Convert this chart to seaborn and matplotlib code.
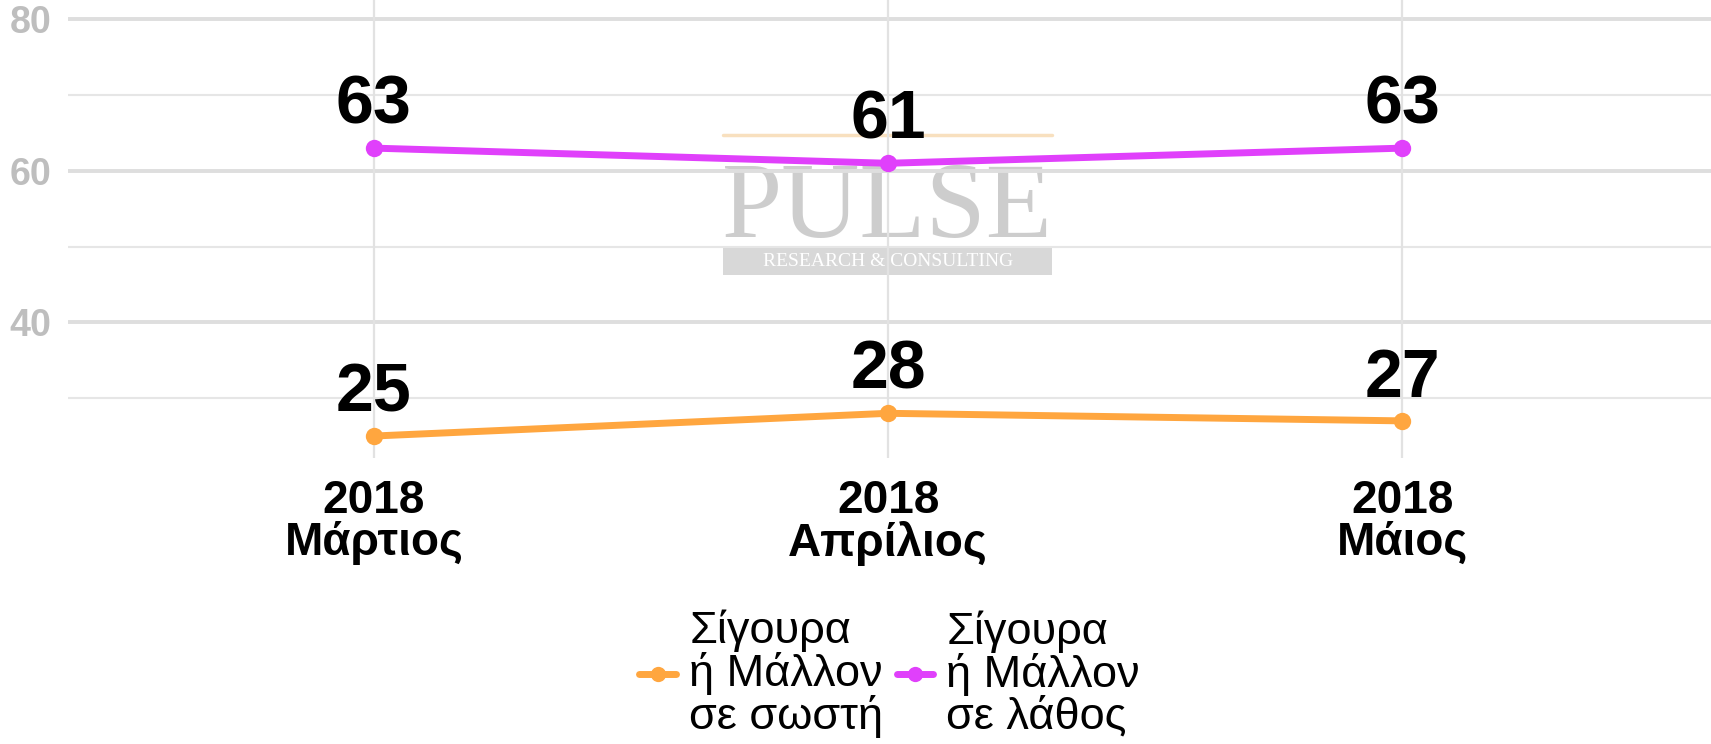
import matplotlib
matplotlib.use("Agg")
import matplotlib.pyplot as plt
from matplotlib.patches import Rectangle
import pandas as pd
import seaborn as sns

sns.set_style("white")

# data
months = ["2018\nΜάρτιος", "2018\nΑπρίλιος", "2018\nΜάιος"]
series_names = ["Σίγουρα\nή Μάλλον\nσε σωστή", "Σίγουρα\nή Μάλλον\nσε λάθος"]
right_way = [25, 28, 27]
wrong_way = [63, 61, 63]
colors = ["#FFA63F", "#E040FB"]
y_ticks = [40, 60, 80]
y_minor = [30, 50, 70]

df = pd.DataFrame({
    "month": months * 2,
    "pos": list(range(len(months))) * 2,
    "series": [series_names[0]] * 3 + [series_names[1]] * 3,
    "value": right_way + wrong_way,
})

fig = plt.figure(figsize=(17.11, 7.44), dpi=100)
ax = fig.add_axes([0.0397, 0.3844, 0.9603, 0.6156])

sns.lineplot(data=df, x="pos", y="value", hue="series", palette=colors,
             marker="o", markersize=12.5, markeredgewidth=0, linewidth=5,
             legend=False, ax=ax, zorder=3)

# value labels
for _, r in df.iterrows():
    ax.annotate(f"{r['value']:.0f}", (r["pos"], r["value"]),
                xytext=(0, 17.5), textcoords="offset points",
                ha="center", va="baseline", fontsize=49, fontweight="bold",
                family="Liberation Sans", color="black", zorder=4)

# grid
for v in y_ticks:
    ax.axhline(v, color="#DEDEDE", lw=2.8, zorder=1)
for v in y_minor:
    ax.axhline(v, color="#E6E6E6", lw=1.5, zorder=1)
for i in range(len(months)):
    ax.axvline(i, color="#E2E2E2", lw=1.6, zorder=1)

ax.set_xlim(-0.595, 2.6)
ax.set_ylim(22.1, 82.55)
ax.set_xticks(range(len(months)))
ax.set_xticklabels(months, fontsize=33, fontweight="bold", color="black",
                   family="Liberation Sans", linespacing=0.95)
ax.set_yticks(y_ticks)
ax.set_yticklabels([str(v) for v in y_ticks], fontsize=27, fontweight="bold",
                   family="Liberation Sans", color="#BEBEBE")
ax.tick_params(axis="x", length=0, pad=15)
ax.tick_params(axis="y", length=0, pad=12)
ax.set_xlabel("")
ax.set_ylabel("")
sns.despine(ax=ax, left=True, bottom=True)

# watermark
ax.plot([0.4226, 0.6150], [0.8185, 0.8185], transform=fig.transFigure,
        color="#F7D9B0", lw=2.5, alpha=0.8, zorder=0.5)
ax.text(0.5188, 1 - 237 / 744, "PULSE", transform=fig.transFigure,
        ha="center", va="baseline", fontsize=78, family="Liberation Serif",
        color="#BDBDBD", alpha=0.75, zorder=0.5)
ax.add_patch(Rectangle((0.4226, 1 - 275 / 744), 0.1923, 27 / 744,
                       transform=fig.transFigure, facecolor="#CFCFCF",
                       alpha=0.8, edgecolor="none", zorder=0.5))
ax.text(0.5188, 1 - 261.5 / 744, "RESEARCH & CONSULTING",
        transform=fig.transFigure, ha="center", va="center", fontsize=14,
        family="Liberation Serif", color="white", zorder=0.6)

# legend
handles = [plt.Line2D([], [], color=c, lw=5, marker="o", markersize=11,
                      markeredgewidth=0) for c in colors]
leg = fig.legend(handles, series_names, loc="center",
                 bbox_to_anchor=(0.520, 0.094), ncol=2, frameon=False,
                 handlelength=0.8, handletextpad=0.3, columnspacing=0.3,
                 borderpad=0.2, prop={"family": "Liberation Sans", "size": 32.5})
for t in leg.get_texts():
    t.set_linespacing(1.0)
    t.set_color("black")

fig.savefig("out.png", dpi=100)
